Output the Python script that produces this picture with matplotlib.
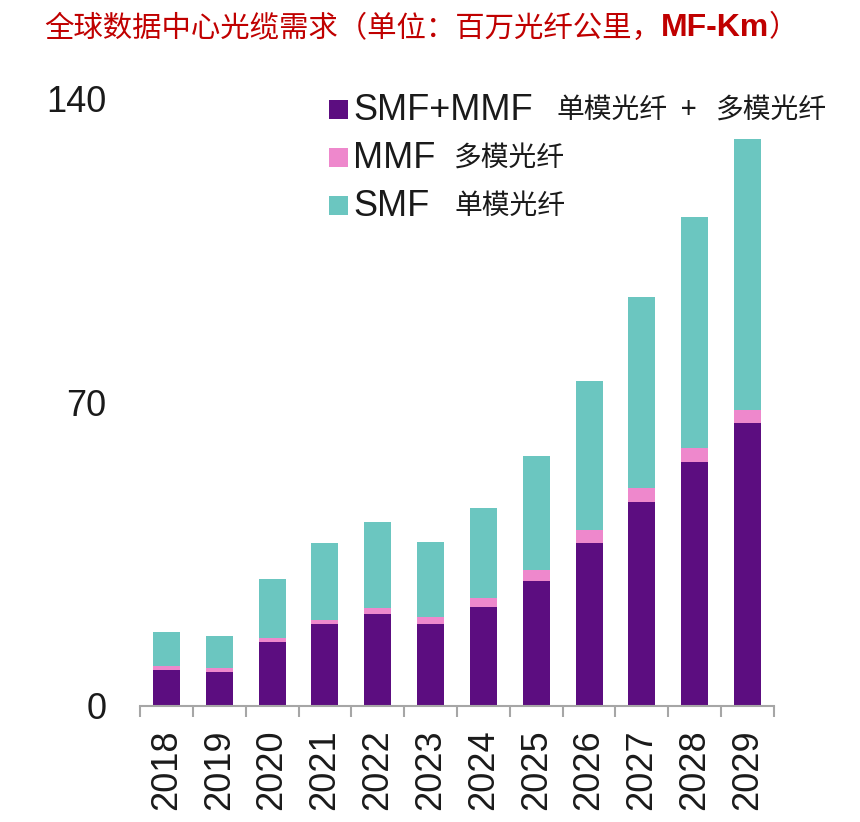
import matplotlib
matplotlib.use("Agg")
import matplotlib.pyplot as plt
from matplotlib.patches import Rectangle
import numpy as np

years = ["2018", "2019", "2020", "2021", "2022", "2023",
         "2024", "2025", "2026", "2027", "2028", "2029"]
smf_mmf = [8.3, 7.8, 14.6, 18.7, 21.1, 18.9, 22.7, 28.7, 37.5, 46.9, 56.2, 65.2]
mmf = [0.8, 0.8, 0.9, 1.1, 1.3, 1.5, 2.0, 2.5, 2.9, 3.2, 3.2, 3.1]
smf = [7.8, 7.5, 13.8, 17.8, 20.0, 17.4, 21.0, 26.5, 34.6, 44.3, 53.4, 62.4]
y_ticks = [0, 70, 140]

legend_latin = ["SMF+MMF", "MMF", "SMF"]
legend_cjk = [["单模光纤", "+", "多模光纤"], ["多模光纤"], ["单模光纤"]]
title_cjk = "全球数据中心光缆需求（单位：百万光纤公里，"
title_unit = "MF-Km"

PURPLE = "#5C0D80"
PINK = "#EE88CC"
TEAL = "#6BC6C0"
RED = "#C00000"
GREY = "#A6A6A6"
TEXT = "#1a1a1a"
colors = [PURPLE, PINK, TEAL]

W, H = 860, 822
CJK = ["Noto Sans CJK SC", "DejaVu Sans"]
LATIN = ["Liberation Sans", "DejaVu Sans"]

fig = plt.figure(figsize=(W / 100, H / 100), dpi=100)
fig.patch.set_facecolor("white")

# axes box in pixels: x 140..774, y(0)=705.5, y(140)=99
ax = fig.add_axes([140 / W, 1 - 705.5 / H, 634 / W, (705.5 - 99) / H])

x = np.arange(len(years))
bottom = np.zeros(len(years))
for series, color in zip([smf_mmf, mmf, smf], colors):
    ax.bar(x, series, width=0.51, bottom=bottom, color=color, linewidth=0)
    bottom += np.array(series)

ax.set_xlim(-0.5, len(years) - 0.5)
ax.set_ylim(0, 140)

for side in ["left", "top", "right"]:
    ax.spines[side].set_visible(False)
ax.spines["bottom"].set_color(GREY)
ax.spines["bottom"].set_linewidth(1.5)

ax.set_xticks(x)
ax.set_xticklabels(years, rotation=90, fontsize=26, family=LATIN, color=TEXT)
ax.set_xticks(np.arange(-0.5, len(years)), minor=True)
ax.tick_params(axis="x", which="major", length=0, pad=17)
ax.tick_params(axis="x", which="minor", length=8, width=1.5, color=GREY, direction="out")

ax.set_yticks(y_ticks)
ax.set_yticklabels([str(v) for v in y_ticks], fontsize=26, family=LATIN, color=TEXT)
ax.tick_params(axis="y", length=0, pad=24)

# title
t1 = fig.text(44 / W, 1 - 28 / H, title_cjk, color=RED, fontsize=21.2,
              family=CJK, ha="left", va="center")
t2 = ax.annotate(title_unit, xy=(1, 0.5), xycoords=t1, ha="left", va="center",
                 color=RED, fontsize=23, fontweight="bold", family=LATIN,
                 annotation_clip=False)
ax.annotate("）", xy=(1, 0.5), xycoords=t2, ha="left", va="center",
            color=RED, fontsize=21.2, family=CJK, annotation_clip=False)

# legend
row_y = [110, 158, 206]
cjk_x = [[557, 681, 716], [454], [454]]
sq = 19
for yc, color, lat, parts, xs in zip(row_y, colors, legend_latin, legend_cjk, cjk_x):
    fig.add_artist(Rectangle((329 / W, 1 - (yc + sq / 2) / H), sq / W, sq / H,
                             transform=fig.transFigure, color=color, linewidth=0))
    fig.text(353 / W, 1 - yc / H, lat, fontsize=26, family=LATIN, color=TEXT,
             ha="left", va="center")
    for part, px in zip(parts, xs):
        fig.text(px / W, 1 - yc / H, part, fontsize=20, family=CJK, color=TEXT,
                 ha="left", va="center")

fig.savefig("out.png", dpi=100, facecolor="white")
